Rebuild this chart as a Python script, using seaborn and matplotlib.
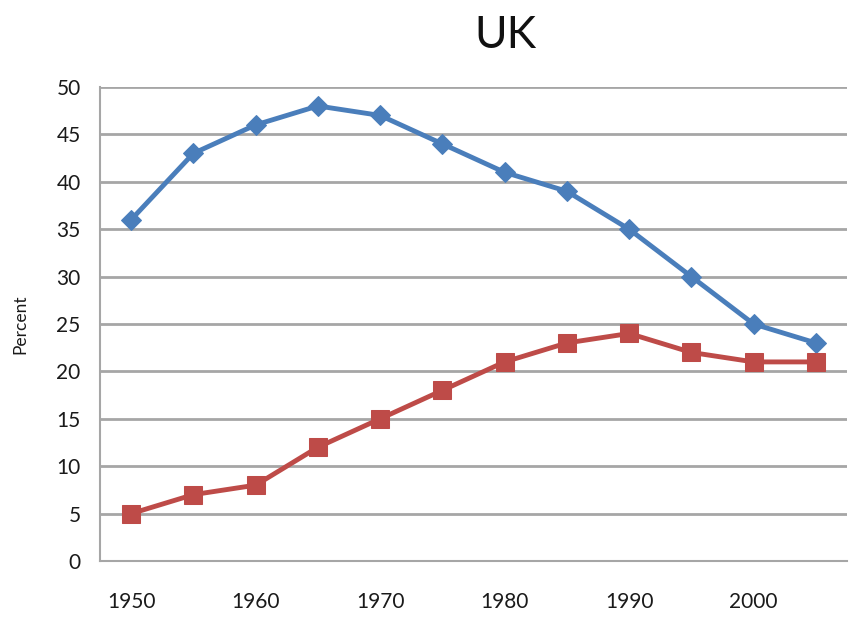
import matplotlib
matplotlib.use("Agg")
import matplotlib.pyplot as plt
import seaborn as sns
import pandas as pd

# data
years = [1950, 1955, 1960, 1965, 1970, 1975, 1980, 1985, 1990, 1995, 2000, 2005]
blue_series = [36, 43, 46, 48, 47, 44, 41, 39, 35, 30, 25, 23]
red_series = [5, 7, 8, 12, 15, 18, 21, 23, 24, 22, 21, 21]
y_ticks = [0, 5, 10, 15, 20, 25, 30, 35, 40, 45, 50]
x_ticks = [1950, 1960, 1970, 1980, 1990, 2000]

BLUE = "#4a7ebb"
RED = "#be4b48"

sns.set_style("white")
plt.rcParams["font.family"] = ["Lato", "DejaVu Sans"]

df = pd.DataFrame({"year": years, "blue": blue_series, "red": red_series})

fig = plt.figure(figsize=(8.49, 6.21), dpi=100)
ax = fig.add_axes([100 / 849, 1 - 561 / 621, 747 / 849, (561 - 87) / 621])

sns.lineplot(data=df, x="year", y="blue", ax=ax, color=BLUE, lw=3.5,
             marker="D", markersize=10, markeredgecolor=BLUE)
sns.lineplot(data=df, x="year", y="red", ax=ax, color=RED, lw=3.5,
             marker="s", markersize=13, markeredgecolor=RED)

ax.set_xlim(1947.5, 2007.5)
ax.set_ylim(0, 50)
ax.set_yticks(y_ticks)
ax.set_xticks(x_ticks)
ax.tick_params(axis="both", labelsize=15, colors="#1a1a1a", length=0)
ax.tick_params(axis="x", pad=22)
ax.tick_params(axis="y", pad=14)

ax.yaxis.grid(True, color="#a6a6a6", lw=2)
ax.set_axisbelow(True)
for side in ["top", "right"]:
    ax.spines[side].set_visible(False)
for side in ["left", "bottom"]:
    ax.spines[side].set_color("#a6a6a6")
    ax.spines[side].set_linewidth(1.5)

ax.set_xlabel("")
ax.set_ylabel("Percent", fontsize=12.5, color="#1a1a1a", labelpad=20)

fig.text(505 / 849, 1 - 36 / 621, "UK", fontsize=32, ha="center", va="center", color="#111111")

fig.savefig("out.png", dpi=100)
